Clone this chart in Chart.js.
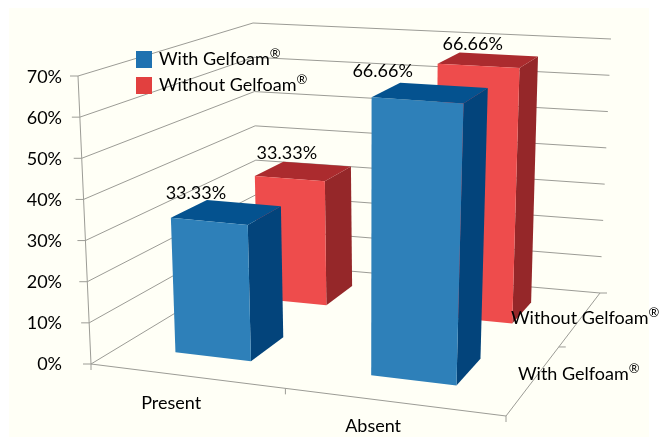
<!DOCTYPE html>
<html>
<head>
<meta charset="utf-8">
<script src="https://cdn.jsdelivr.net/npm/chart.js@4"></script>
<style>
  body { margin: 0; background: #fff; }
  canvas { display: block; }
</style>
</head>
<body>
<canvas id="chart" width="668" height="437"></canvas>
<script>
// Data
var categories = ["Present", "Absent"];
var seriesNames = ["With Gelfoam®", "Without Gelfoam®"];
var withGelfoam = [33.33, 66.66];
var withoutGelfoam = [33.33, 66.66];
var valueTicks = [0, 10, 20, 30, 40, 50, 60, 70];

var FONT = 'Lato, sans-serif';
var TEXT = "#000";
var GRID = "#9c9c96";

// corners of the 3D box on the canvas: front-left, front-right, back-right, back-left
var floorCorners = [[91, 364], [506, 416], [600, 293], [258, 263]];
var ceilCorners = [[78, 76], [520, 107], [611, 39], [253, 23]];

var faceColors = [
  { front: "#2e80b9", top: "#04528f", side: "#03447b" },
  { front: "#ee4c4c", top: "#ab2b2e", side: "#952729" }
];
// value label offsets from the front-left top corner of each bar [series][category]
var labelOffsets = [[[25, -25], [11, -26]], [[32, -23], [35, -19]]];
// category label offsets from the front edge below each bar
var categoryOffsets = [[-14, 27], [-19, 24]];

// maps the unit square to a quad, keeps straight lines straight
function quadMap(q) {
  var dx1 = q[1][0] - q[2][0], dy1 = q[1][1] - q[2][1];
  var dx2 = q[3][0] - q[2][0], dy2 = q[3][1] - q[2][1];
  var sx = q[0][0] - q[1][0] + q[2][0] - q[3][0];
  var sy = q[0][1] - q[1][1] + q[2][1] - q[3][1];
  var det = dx1 * dy2 - dy1 * dx2;
  var g = (sx * dy2 - sy * dx2) / det;
  var h = (dx1 * sy - dy1 * sx) / det;
  var a = q[1][0] - q[0][0] + g * q[1][0];
  var b = q[3][0] - q[0][0] + h * q[3][0];
  var d = q[1][1] - q[0][1] + g * q[1][1];
  var e = q[3][1] - q[0][1] + h * q[3][1];
  return function (u, w) {
    var n = g * u + h * w + 1;
    return [(a * u + b * w + q[0][0]) / n, (d * u + e * w + q[0][1]) / n];
  };
}
var floorMap = quadMap(floorCorners);
var ceilMap = quadMap(ceilCorners);

// u along categories, w in depth, v up the value axis, all 0..1
function project(u, w, v) {
  var p = floorMap(u, w), t = ceilMap(u, w);
  return [p[0] + (t[0] - p[0]) * v, p[1] + (t[1] - p[1]) * v];
}

function line(ctx, pts, color, width) {
  ctx.beginPath();
  pts.forEach(function (p, i) { i ? ctx.lineTo(p[0], p[1]) : ctx.moveTo(p[0], p[1]); });
  ctx.strokeStyle = color;
  ctx.lineWidth = width || 1;
  ctx.stroke();
}

function face(ctx, pts, color) {
  ctx.beginPath();
  pts.forEach(function (p, i) { i ? ctx.lineTo(p[0], p[1]) : ctx.moveTo(p[0], p[1]); });
  ctx.closePath();
  ctx.fillStyle = color;
  ctx.fill();
}

// the registered sign is small and raised in the original
function seriesText(ctx, text, x, y, size) {
  var base = text.replace("®", "");
  ctx.textAlign = "left";
  ctx.textBaseline = "middle";
  ctx.fillStyle = TEXT;
  ctx.font = size + "px " + FONT;
  ctx.fillText(base, x, y);
  var w = ctx.measureText(base).width;
  ctx.font = Math.round(size * 0.72) + "px " + FONT;
  ctx.fillText("®", x + w, y - 5);
}

function drawBox(ctx, u0, u1, w0, w1, v, colors) {
  var fl0 = project(u0, w0, 0), fr0 = project(u1, w0, 0), br0 = project(u1, w1, 0);
  var fl = project(u0, w0, v), fr = project(u1, w0, v), br = project(u1, w1, v), bl = project(u0, w1, v);
  face(ctx, [fr0, br0, br, fr], colors.side);
  face(ctx, [fl, fr, br, bl], colors.top);
  face(ctx, [fl0, fr0, fr, fl], colors.front);
  return fl;
}

var box3d = {
  id: "box3d",
  beforeDraw: function (chart) {
    var ctx = chart.ctx;
    ctx.fillStyle = "#fffff6";
    ctx.fillRect(9, 8, 640, 429);
  },
  beforeDatasetsDraw: function (chart) {
    var ctx = chart.ctx, xs = chart.scales.x, ys = chart.scales.y;
    var vOf = function (px) { return (ys.bottom - px) / ys.height; };

    // walls and floor
    ys.ticks.forEach(function (t) {
      var v = vOf(ys.getPixelForValue(t.value));
      var a = project(0, 0, v);
      line(ctx, [[a[0] - 8, a[1]], a, project(0, 1, v), project(1, 1, v)], GRID);
    });
    line(ctx, [project(0, 0, 0), project(0, 0, 1)], GRID);
    line(ctx, [project(0, 0, 0), project(1, 0, 0), project(1, 1, 0)], GRID);

    // small ticks on the floor edges
    [0, 0.5, 1].forEach(function (u) {
      var p = project(u, 0, 0);
      line(ctx, [p, [p[0], p[1] + 6]], GRID);
    });
    [0.5, 1].forEach(function (w) {
      var p = project(1, w, 0);
      line(ctx, [p, [p[0] + 7, p[1]]], GRID);
    });

    // bars, back row first
    var corners = [];
    for (var i = chart.data.datasets.length - 1; i >= 0; i--) {
      var w0 = (i + 0.3) / seriesNames.length, w1 = (i + 0.7) / seriesNames.length;
      corners[i] = chart.getDatasetMeta(i).data.map(function (bar) {
        var u = (bar.x - xs.left) / xs.width, half = bar.width / 2 / xs.width;
        return drawBox(ctx, u - half, u + half, w0, w1, vOf(bar.y), faceColors[i]);
      });
    }

    // value labels
    ctx.font = "18px " + FONT;
    ctx.fillStyle = TEXT;
    ctx.textAlign = "center";
    ctx.textBaseline = "middle";
    corners.forEach(function (row, i) {
      row.forEach(function (p, j) {
        var value = chart.data.datasets[i].data[j];
        ctx.fillText(value.toFixed(2) + "%", p[0] + labelOffsets[i][j][0], p[1] + labelOffsets[i][j][1]);
      });
    });

    // category labels under the front edge
    ctx.font = "18px " + FONT;
    categories.forEach(function (c, j) {
      var u = (xs.getPixelForValue(j) - xs.left) / xs.width;
      var p = project(u, 0, 0);
      ctx.fillText(c, p[0] + categoryOffsets[j][0], p[1] + categoryOffsets[j][1]);
    });

    // depth labels along the right floor edge
    seriesText(ctx, seriesNames[0], 518, 374, 18);
    seriesText(ctx, seriesNames[1], 511, 318, 18);

    // legend
    chart.data.datasets.forEach(function (ds, i) {
      var y = 51 + i * 26;
      ctx.fillStyle = ds.backgroundColor;
      ctx.fillRect(136, y, 16, 17);
      seriesText(ctx, ds.label, 159, y + 8, 18);
    });
    return false;
  }
};

new Chart(document.getElementById("chart"), {
  type: "bar",
  plugins: [box3d],
  data: {
    labels: categories,
    datasets: [
      { label: seriesNames[0], data: withGelfoam, backgroundColor: "#1f72b0", grouped: false },
      { label: seriesNames[1], data: withoutGelfoam, backgroundColor: "#e2403f", grouped: false }
    ]
  },
  options: {
    responsive: false,
    animation: false,
    layout: { padding: { top: 77, bottom: 73, right: 62 } },
    datasets: { bar: { categoryPercentage: 1, barPercentage: 0.4 } },
    plugins: { legend: { display: false }, tooltip: { enabled: false } },
    scales: {
      x: { display: false },
      y: {
        min: valueTicks[0],
        max: valueTicks[valueTicks.length - 1],
        afterFit: function (s) { s.width = 78; },
        afterBuildTicks: function (s) { s.ticks = valueTicks.map(function (v) { return { value: v }; }); },
        grid: { display: false, drawTicks: false },
        border: { display: false },
        ticks: {
          padding: 16,
          color: TEXT,
          font: { family: "Lato", size: 18 },
          callback: function (v) { return v + "%"; }
        }
      }
    }
  }
});
</script>
</body>
</html>
